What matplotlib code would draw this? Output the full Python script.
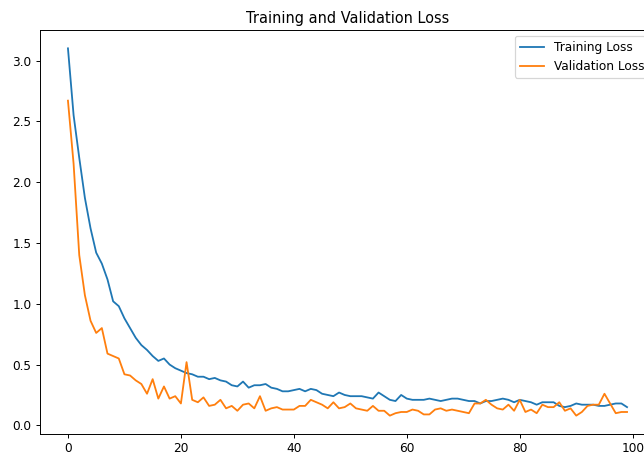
import matplotlib
matplotlib.use('Agg')
import matplotlib.pyplot as plt
import numpy as np

# loss values, one per epoch (0..99)
train_loss = [3.10, 2.55, 2.20, 1.87, 1.62, 1.42, 1.33, 1.20, 1.02, 0.98,
              0.88, 0.80, 0.72, 0.66, 0.62, 0.57, 0.53, 0.55, 0.50, 0.47,
              0.45, 0.43, 0.42, 0.40, 0.40, 0.38, 0.39, 0.37, 0.36, 0.33,
              0.32, 0.36, 0.31, 0.33, 0.33, 0.34, 0.31, 0.30, 0.28, 0.28,
              0.29, 0.30, 0.28, 0.30, 0.29, 0.26, 0.25, 0.24, 0.27, 0.25,
              0.24, 0.24, 0.24, 0.23, 0.22, 0.27, 0.24, 0.21, 0.20, 0.25,
              0.22, 0.21, 0.21, 0.21, 0.22, 0.21, 0.20, 0.21, 0.22, 0.22,
              0.21, 0.20, 0.20, 0.18, 0.20, 0.20, 0.21, 0.22, 0.21, 0.19,
              0.21, 0.20, 0.19, 0.17, 0.19, 0.19, 0.19, 0.16, 0.15, 0.16,
              0.18, 0.17, 0.17, 0.17, 0.16, 0.16, 0.17, 0.18, 0.18, 0.15]
val_loss = [2.67, 2.15, 1.40, 1.07, 0.86, 0.76, 0.80, 0.59, 0.57, 0.55,
            0.42, 0.41, 0.37, 0.34, 0.26, 0.38, 0.22, 0.32, 0.22, 0.24,
            0.18, 0.52, 0.21, 0.19, 0.23, 0.16, 0.17, 0.21, 0.14, 0.16,
            0.12, 0.17, 0.18, 0.14, 0.24, 0.12, 0.14, 0.15, 0.13, 0.13,
            0.13, 0.16, 0.16, 0.21, 0.19, 0.17, 0.14, 0.19, 0.14, 0.15,
            0.18, 0.14, 0.13, 0.12, 0.16, 0.12, 0.12, 0.08, 0.10, 0.11,
            0.11, 0.13, 0.12, 0.09, 0.09, 0.13, 0.14, 0.12, 0.13, 0.12,
            0.11, 0.10, 0.18, 0.18, 0.21, 0.17, 0.14, 0.13, 0.17, 0.12,
            0.21, 0.11, 0.13, 0.10, 0.17, 0.15, 0.15, 0.19, 0.12, 0.14,
            0.08, 0.11, 0.16, 0.17, 0.17, 0.26, 0.18, 0.10, 0.11, 0.11]
epochs = np.arange(len(train_loss))

# the reference looks like a shrunk render, so use a lower dpi
DPI = 87
fig = plt.figure(figsize=(644/DPI, 456/DPI), dpi=DPI)
# axes run past the right edge, like the cropped original
ax = fig.add_axes([40/644, 22/456, 615/644, 404/456])
ax.plot(epochs, train_loss, label='Training Loss')
ax.plot(epochs, val_loss, label='Validation Loss')
ax.set_title('Training and Validation Loss')
ax.legend(loc='upper right')

fig.savefig('out.png', dpi=DPI)
